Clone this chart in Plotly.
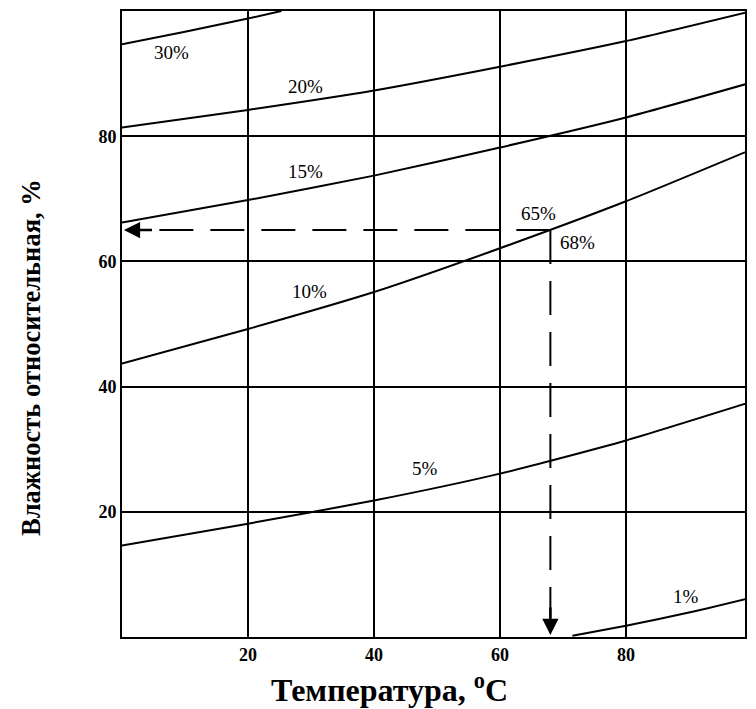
import plotly.graph_objects as go

# Data
temps = [0, 20, 40, 60, 80, 100]
t_30 = [0, 10, 20, 25.3]
rh_30 = [94.7, 96.7, 98.8, 100]
rh_20 = [81.4, 84.2, 87.3, 91.1, 95.2, 100]
rh_15 = [66.2, 69.8, 73.7, 78.2, 83.0, 88.6]
rh_10 = [43.7, 49.2, 55.1, 62.1, 69.6, 77.9]
rh_5 = [14.6, 18.1, 21.8, 26.1, 31.4, 37.6]
t_1 = [71.5, 80, 90, 100]
rh_1 = [0.2, 1.8, 3.9, 6.3]

# Example reading (dashed guide)
ex_t = 68
ex_rh = 65

curve_labels = ["30%", "20%", "15%", "10%", "5%", "1%"]
label_x = [7.9, 29.1, 29.2, 29.7, 48.1, 89.6]
label_y = [93.3, 87.9, 74.3, 55.2, 26.9, 6.4]

tick_vals = [20, 40, 60, 80]
tick_text = ["20", "40", "60", "80"]

FONT = "Liberation Serif"

# page has an 8px body margin and the visible width is 740px;
# keep the reference scale (6.32 px per degree) and fit the plot inside
OFF = 8
W, H = 740, 701
L, R, T, B = 114, 1, 1.5, 72
pw, ph = W - L - R, H - T - B
x_max = pw / 6.32

fig = go.Figure()

line_style = dict(color="black", width=2)
series = [(t_30, rh_30), (temps, rh_20), (temps, rh_15), (temps, rh_10), (temps, rh_5), (t_1, rh_1)]
for xs, ys in series:
    fig.add_trace(go.Scatter(x=xs, y=ys, mode="lines", line=dict(**line_style, shape="spline", smoothing=0.6),
                             showlegend=False, hoverinfo="skip", cliponaxis=True))

# dashed guide lines
dash_style = dict(color="black", width=2, dash="34px,17px")
fig.add_trace(go.Scatter(x=[ex_t, 3], y=[ex_rh, ex_rh], mode="lines", line=dash_style,
                         showlegend=False, hoverinfo="skip"))
fig.add_trace(go.Scatter(x=[ex_t, ex_t], y=[ex_rh, 3], mode="lines", line=dash_style,
                         showlegend=False, hoverinfo="skip"))

annotations = []
for txt, lx, ly in zip(curve_labels, label_x, label_y):
    annotations.append(dict(x=lx, y=ly, xref="x", yref="y", text=txt, showarrow=False,
                            font=dict(family=FONT, size=19, color="black")))
annotations.append(dict(x=66.1, y=67.6, xref="x", yref="y", text="65%", showarrow=False,
                        font=dict(family=FONT, size=19, color="black")))
annotations.append(dict(x=72.3, y=63.0, xref="x", yref="y", text="68%", showarrow=False,
                        font=dict(family=FONT, size=19, color="black")))
# arrow heads
annotations.append(dict(x=0.3, y=ex_rh, ax=5, ay=ex_rh, xref="x", yref="y", axref="x", ayref="y",
                        text="", showarrow=True, arrowhead=2, arrowsize=1.3, arrowwidth=2.5,
                        arrowcolor="black"))
annotations.append(dict(x=ex_t, y=0.3, ax=ex_t, ay=5, xref="x", yref="y", axref="x", ayref="y",
                        text="", showarrow=True, arrowhead=2, arrowsize=1.3, arrowwidth=2.5,
                        arrowcolor="black"))


def page_to_paper(px, py):
    fx, fy = px - OFF, py - OFF
    return (fx - L) / pw, (H - B - fy) / ph


# axis titles (page pixel centres from the reference)
xt_x, xt_y = page_to_paper(390, 688)
yt_x, yt_y = page_to_paper(30, 357)
annotations.append(dict(x=xt_x, y=xt_y, xref="paper", yref="paper", text="Температура, <sup>o</sup>C",
                        xanchor="center", yanchor="middle", showarrow=False,
                        font=dict(family=FONT, size=32, color="black", weight="bold")))
annotations.append(dict(x=yt_x, y=yt_y, xref="paper", yref="paper", text="Влажность относительная, %",
                        xanchor="center", yanchor="middle", textangle=-90, showarrow=False,
                        font=dict(family=FONT, size=26.5, color="black", weight="bold")))

axis_common = dict(showline=True, linecolor="black", linewidth=2, mirror=True,
                   showgrid=True, gridcolor="black", gridwidth=2, zeroline=False,
                   ticks="", tickvals=tick_vals, ticktext=tick_text,
                   tickfont=dict(family=FONT, size=18, color="black", weight="bold"))

fig.update_layout(
    width=W, height=H,
    margin=dict(l=L, r=R, t=T, b=B),
    paper_bgcolor="white", plot_bgcolor="white",
    xaxis=dict(range=[0, x_max], **axis_common),
    yaxis=dict(range=[0, 100], **axis_common),
    annotations=annotations,
    font=dict(family=FONT, color="black"),
)

fig.write_html("out.html")
